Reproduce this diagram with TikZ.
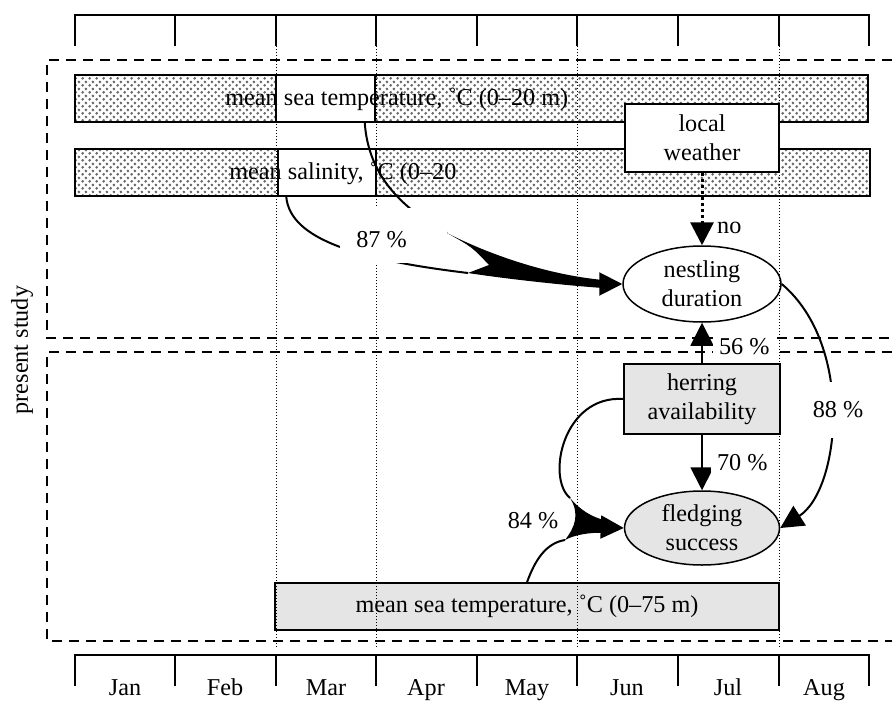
\documentclass[tikz,border=0pt]{standalone}
\usepackage{fontspec}
\setmainfont{Liberation Serif}
\usetikzlibrary{shapes.geometric, patterns, arrows.meta}

\pgfdeclarepatternformonly{seadots}{\pgfpointorigin}{\pgfqpoint{3.4pt}{3.4pt}}{\pgfqpoint{3.4pt}{3.4pt}}{%
  \pgfpathcircle{\pgfqpoint{0.85pt}{0.85pt}}{0.75pt}%
  \pgfpathcircle{\pgfqpoint{2.55pt}{2.55pt}}{0.75pt}%
  \pgfusepath{fill}}

\tikzset{
  txt/.style={font=\fontsize{12.1}{14.5}\selectfont},
  box/.style={draw, line width=0.75pt, txt, align=center, inner sep=0pt},
  oval/.style={box, ellipse, minimum width=79pt, minimum height=38pt},
  seriesbar/.style={draw, line width=0.75pt, pattern=seadots, pattern color=black!60},
  guide/.style={line width=0.5pt, dash pattern=on 0.5pt off 1pt},
  month/.style={line width=0.75pt},
  studyframe/.style={line width=1pt, dash pattern=on 5pt off 3.5pt},
  link/.style={line width=1pt},
  arr/.style={link, -{Triangle[length=11.5pt, width=11.5pt]}},
  pct/.style={txt, fill=white, inner sep=3pt},
}

\begin{document}
\begin{tikzpicture}[x=0.5pt, y=-0.5pt]
  \useasboundingbox (0,0) rectangle (892,700);

  % Month scales (top and bottom)
  \draw[month] (75,46) -- (75,15) -- (869,15) -- (869,46);
  \draw[month] (75,686) -- (75,655) -- (869,655) -- (869,686);
  \foreach \x in {175,276,376,477,577,678,779} {
    \draw[month] (\x,15) -- (\x,46);
    \draw[month] (\x,655) -- (\x,686);
  }
  \foreach \m/\x in {Jan/125, Feb/225, Mar/326, Apr/426, May/527, Jun/627, Jul/728, Aug/824}
    \node[txt, anchor=base] (mon\m) at (\x,695) {\m};

  % Study frames
  \draw[studyframe] (892,60) -- (47,60) -- (47,338) -- (892,338);
  \draw[studyframe] (892,352) -- (47,352) -- (47,641) -- (892,641);
  \node[txt, rotate=90] (study) at (22,350) {present study};

  % Shaded series (0-20 m)
  \draw[seriesbar] (75,75) rectangle (868,122);
  \draw[seriesbar] (75,149) rectangle (870,196);
  \node[box, fill=white, minimum width=49.5pt, minimum height=23.5pt] (tempbox) at (325.5,98.5) {};
  \node[box, fill=white, minimum width=49pt, minimum height=23.5pt] (salbox) at (327,172.5) {};
  \node[txt, anchor=base west, inner sep=0pt] (templbl) at (225,106) {mean sea temperature, ˚C (0–20 m)};
  \node[txt, anchor=base west, inner sep=0pt] (sallbl) at (229,180) {mean salinity, ˚C (0–20};

  % Factors and responses
  \node[box, fill=white, minimum width=77pt, minimum height=34pt] (weather) at (702,138) {local\\weather};
  \node[oval, fill=white] (nd) at (702,284) {nestling\\duration};
  \node[box, fill=black!10, minimum width=78pt, minimum height=35pt] (hr) at (702,399) {herring\\availability};
  \node[oval, fill=black!10, minimum width=77.5pt, minimum height=37pt] (fs) at (702,528) {fledging\\success};
  \node[box, fill=black!10, minimum width=252pt, minimum height=23.5pt] (deep) at (527,606.5) {mean sea temperature, ˚C (0–75 m)};

  % Month guides
  \foreach \x in {276,376,577,779}
    \draw[guide] (\x,46) -- (\x,648);

  % Direct links
  \draw[arr, line width=1.5pt, dash pattern=on 1.5pt off 1.5pt] (weather) -- node[txt, pos=0.76, right=3.5pt] (lblno) {no} (nd);
  \draw[arr] (hr) -- node[pct, pos=0.4, right=5pt] (lbl56) {56 \%} (nd);
  \draw[arr] (hr) -- node[pct, pos=0.5, right=4pt] (lbl70) {70 \%} (fs);

  % Surface series merging into nestling duration
  \coordinate (bend87) at (447,233);
  \coordinate (fork87) at (468,273);
  \coordinate (tail87) at (600,284);
  \draw[link] ([xshift=4.5pt]salbox.south west) .. controls (290,240) and (360,260) .. (fork87);
  \draw[link] ([xshift=-5.5pt]tempbox.south east) .. controls (368,170) and (395,205) .. (bend87);
  \fill (bend87) .. controls (480,250) and (540,274) .. (603,280) -- (603,288)
    .. controls (560,285) and (500,278) .. (fork87) -- (489,265) .. controls (472,247) .. (bend87) -- cycle;
  \draw[arr] (tail87) -- (nd.west);
  \node[fill=white, minimum width=53.5pt, minimum height=27.5pt] (gap87) at (393.5,235.5) {};
  \node[txt] (lbl87) at (381.5,240) {87 \%};

  % Herring and deep temperature merging into fledging success
  \coordinate (bend84) at (570,498);
  \coordinate (fork84) at (565,540);
  \coordinate (tail84) at (600,527);
  \draw[link] (hr.west) .. controls (563,395) and (546,478) .. (bend84);
  \draw[link] (deep.north) .. controls (535,560) and (546,543) .. (fork84);
  \fill (bend84) .. controls (580,510) and (592,517) .. (604,520) -- (604,533)
    .. controls (590,532) and (574,535) .. (fork84) .. controls (575,527) and (580,514) .. (bend84) -- cycle;
  \draw[arr] (tail84) -- (fs.west);
  \node[txt] (lbl84) at (533,521) {84 \%};

  % Nestling duration to fledging success
  \draw[arr] (nd.east) .. controls (855,346) and (840,490) .. (fs.east);
  \node[pct, inner ysep=9.7pt] (lbl88) at (838,410) {88 \%};
\end{tikzpicture}
\end{document}
